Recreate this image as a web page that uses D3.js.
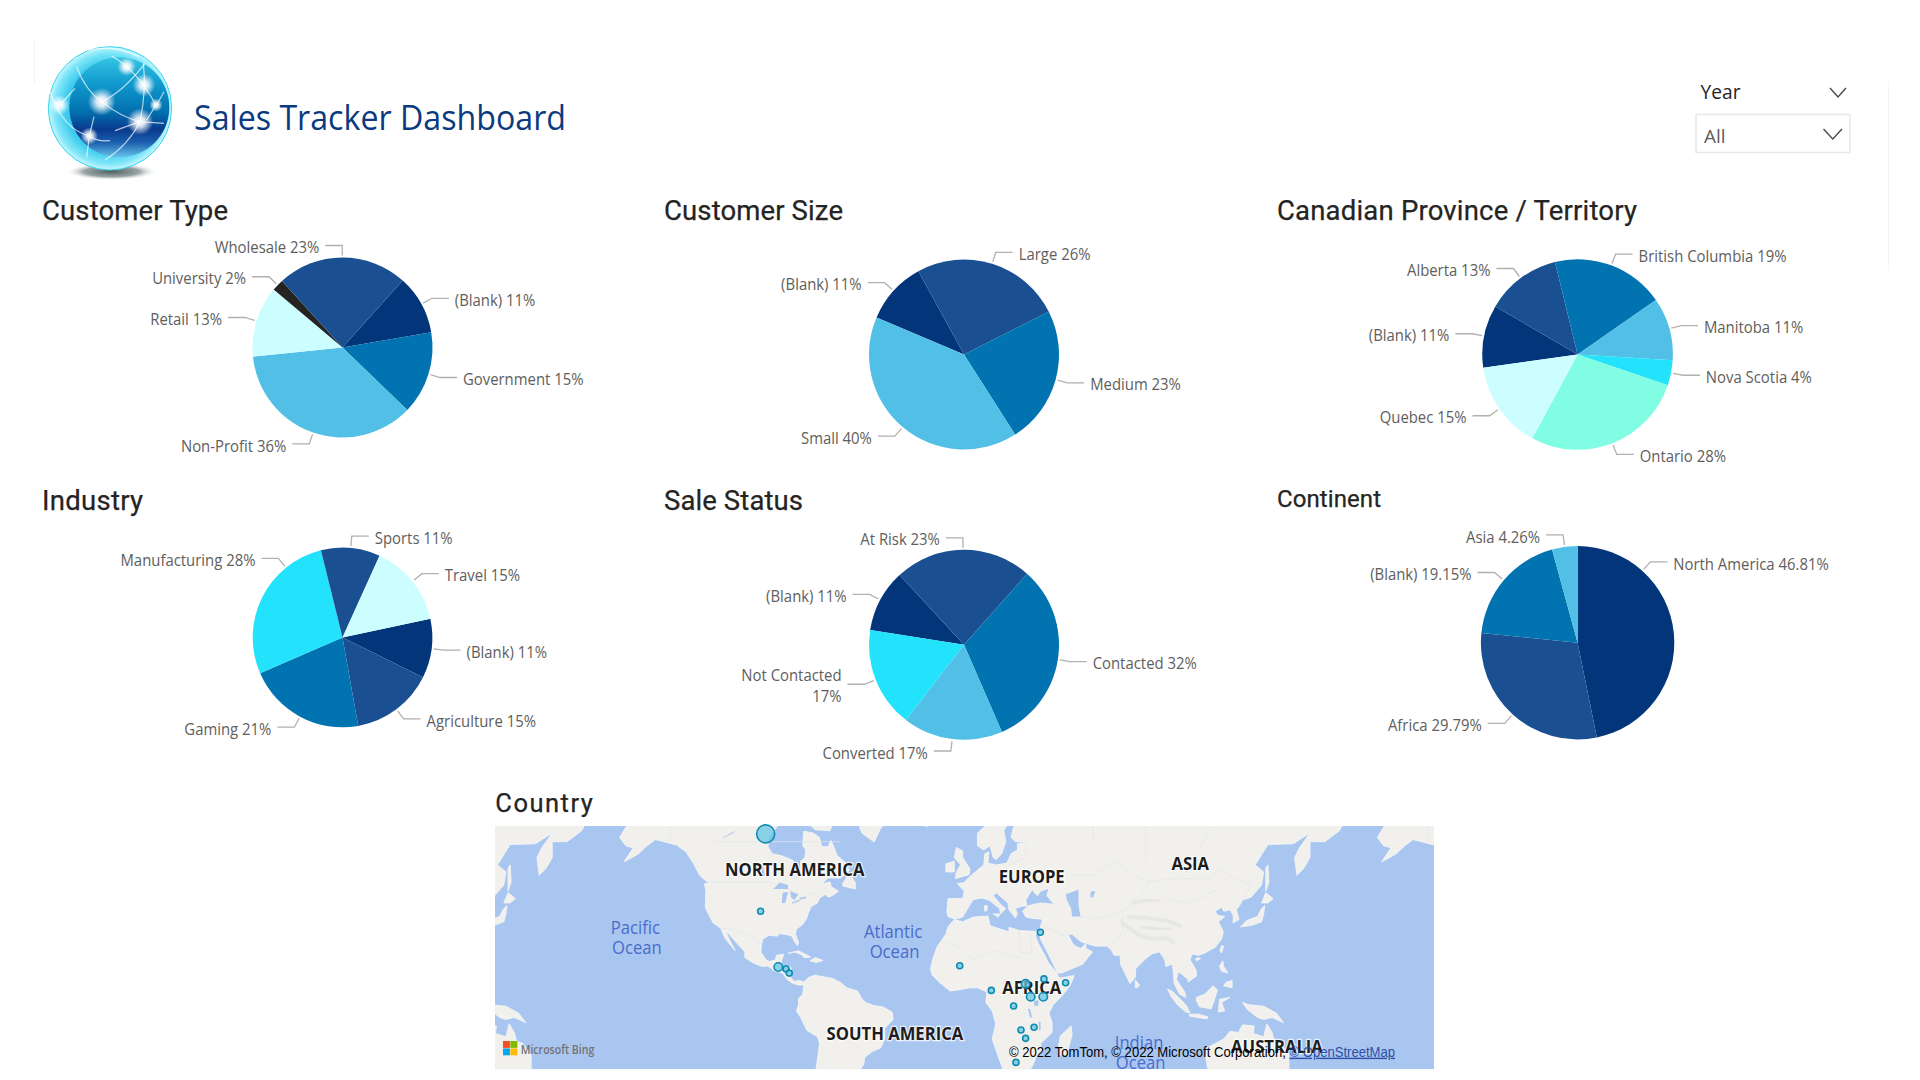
<!DOCTYPE html>
<html>
<head>
<meta charset="utf-8">
<title>Sales Tracker Dashboard</title>
<script src="https://cdn.jsdelivr.net/npm/d3@7"></script>
<style>
  body { margin: 0; background: #fff; }
  svg { display: block; }
  text { font-family: "Open Sans", "Noto Sans", sans-serif; }
  .title { font-family: Roboto, sans-serif; fill: #252423; font-weight: 400; stroke: #252423; stroke-width: 0.25px; }
  .pielabel { fill: #605e5c; font-size: 16px; }
</style>
</head>
<body>
<svg id="chart" width="1920" height="1080"></svg>
<script>
// Pie data, counts of the 47 customers
const typeCats = ["(Blank)", "Government", "Non-Profit", "Retail", "University", "Wholesale"];
const typeVals = [5, 7, 17, 6, 1, 11];
const sizeCats = ["(Blank)", "Large", "Medium", "Small"];
const sizeVals = [5, 12, 11, 19];
const provinceCats = ["(Blank)", "Alberta", "British Columbia", "Manitoba", "Nova Scotia", "Ontario", "Quebec"];
const provinceVals = [5, 6, 9, 5, 2, 13, 7];
const industryCats = ["(Blank)", "Agriculture", "Gaming", "Manufacturing", "Sports", "Travel"];
const industryVals = [5, 7, 10, 13, 5, 7];
const statusCats = ["(Blank)", "At Risk", "Contacted", "Converted", "Not Contacted"];
const statusVals = [5, 11, 15, 8, 8];
const continentCats = ["North America", "Africa", "(Blank)", "Asia"];
const continentVals = [22, 14, 9, 2];

// Map bubbles
const countries = ["Canada", "United States", "Guatemala", "Honduras", "Nicaragua", "Mali", "Israel", "Ethiopia", "Somalia",
  "South Sudan", "Cameroon", "Uganda", "Kenya", "DR Congo", "Malawi", "Zambia", "Zimbabwe", "South Africa"];
const countryLon = [-95.6, -98, -89.6, -85.9, -84.4, -3.4, 34.9, 36.6, 46.9, 27.9, 11.6, 30.3, 36.3, 22.2, 31.9, 25.7, 27.9, 23.3];
const countryLat = [61.8, 39, 15.7, 14.8, 12.9, 16.3, 30.8, 10.2, 8.4, 7.9, 4.8, 1.8, 1.8, -2.6, -12.6, -13.9, -17.7, -28.2];
const countryVals = [9, 1, 2, 1, 1, 1, 1, 1, 1, 2, 1, 2, 2, 1, 1, 1, 1, 1];

// Rough coastlines, lon/lat
const land = [
  // north america
  [[-168,65.6],[-164,66.5],[-166,68.3],[-160,70],[-156,71.2],[-148,70.4],[-141,69.7],[-130,70],[-125,70],[-115,68],[-108,68],[-100,68],[-95,69],[-94,72],[-90,69],[-85,69.5],[-81,68],[-87,65],[-90,63.5],[-94,61],[-94.5,58.8],[-92.5,57],[-88,56.5],[-82.5,55.2],[-82,52.9],[-79.5,51.3],[-79,52.5],[-79,55],[-77,56],[-76.5,58],[-78,59],[-77.5,62.4],[-73,62],[-70,61],[-69,58.8],[-66,58.8],[-64.5,60.3],[-61.5,56.5],[-58,54.8],[-55.7,52.5],[-60,50.2],[-66,50.2],[-69,48.3],[-65,49],[-64.5,47.5],[-61,46],[-64,44.5],[-66,44],[-67,45],[-70,43.7],[-71,42],[-74,40.7],[-75.5,38],[-76,36.5],[-78,34],[-81,32],[-81.5,30],[-80,26.8],[-80.5,25.2],[-82,27],[-83,29.2],[-85,29.7],[-89,30.3],[-90,29.2],[-94,29.6],[-97,28],[-97.7,25],[-97.8,22.3],[-95.5,19],[-94,18.2],[-91,18.8],[-90.5,21],[-87,21.5],[-88,18.5],[-88.5,16],[-84,15.9],[-83.3,14.9],[-83.8,11],[-82,9],[-79.5,9.5],[-77.5,8.7],[-77.8,7.3],[-80,7.3],[-81,7.6],[-83,8.3],[-85.5,10],[-87.5,13],[-91.5,14],[-94.5,16.2],[-97,15.9],[-101.5,17.5],[-105.5,20],[-105.5,22.5],[-109,26],[-112.5,29.5],[-114.7,31.6],[-113,28],[-110,23],[-112,25],[-115,28.5],[-117,32.5],[-120.5,34.5],[-122.5,37.5],[-124.3,40.4],[-124,46],[-124.7,48.4],[-122.5,48.5],[-127,51],[-130,54.5],[-133.5,57.5],[-138,59.2],[-144,60],[-148,60.5],[-152,59],[-156,57],[-163,54.8],[-158.5,58.5],[-162,59],[-165,61],[-161,64]],
  // greenland, baffin, newfoundland, iceland
  [[-54,72],[-50,68],[-53,66],[-50,62],[-44,59.9],[-41,63],[-35,66],[-25,70],[-30,75],[-54,75]],
  [[-72,62.7],[-65,62.5],[-62,66],[-70,71],[-80,72],[-85,70],[-78,65]],
  [[-59,47.7],[-53,46.7],[-53,48.8],[-56,51.5],[-59,48.5]],
  [[-24,65.5],[-18,66.3],[-14,65],[-19,63.4],[-23,64]],
  // caribbean
  [[-85,21.8],[-80,23],[-74.2,20.2],[-77.5,19.9],[-78,21],[-82,22.5]],
  [[-74.5,18.5],[-72,20],[-68.5,18.7],[-71.5,17.8]],
  // south america
  [[-77.5,8.7],[-75,11],[-72,12],[-70,11.5],[-64,10.5],[-60,8.5],[-57,6],[-52,4.5],[-50,1],[-48,-1],[-44,-2.5],[-40,-3],[-35.5,-5.5],[-35,-9],[-39,-13],[-39,-18],[-41,-22],[-45,-23.5],[-48.5,-26],[-49,-29],[-52,-33],[-55,-35],[-58,-38],[-62,-39],[-65,-45],[-68,-50],[-68,-54],[-73,-52],[-75,-46],[-73,-38],[-71.5,-30],[-70,-20],[-71,-17],[-76,-14],[-79,-8],[-81,-5],[-80,-2],[-80,1],[-78,3],[-77.5,7]],
  // africa, madagascar
  [[-6,35.8],[-2,35],[3,36.8],[10,37.2],[11,33.5],[15,32.3],[20,31],[20,32.8],[25,31.5],[32,31.2],[34.5,31.2],[32.5,29.5],[34,26],[37,21],[38.5,18],[43,12.5],[44,10.5],[51,11.8],[49,7],[45,2],[41,-2],[39,-6],[40.5,-10.5],[40.5,-15],[35,-20],[35.5,-24],[32.8,-26],[31,-30],[27,-34],[20,-35],[18,-33],[15,-26],[12,-18],[13.7,-11],[12,-5],[9,-1],[9.5,4],[5,6],[1,6],[-4,5],[-8,4.5],[-13,8.5],[-16.5,12],[-17.3,15],[-16,20],[-14,25],[-10,30],[-9,33]],
  [[49.5,-12],[50,-16],[47.5,-24.8],[44,-25],[43.5,-21],[44.5,-16.5]],
  // eurasia
  [[-9,37],[-9.5,39],[-9,43.5],[-2,43.5],[-1.2,46],[-4.5,48.5],[-1.5,48.7],[2,51],[4,52],[8,54],[8.5,57],[10.5,57.5],[10,54.5],[14,54],[19,54.5],[21,57],[24,58],[24,59.5],[30,60],[23,60],[21,61],[22,63],[25,65.5],[22,65.8],[17.5,62.5],[18.5,60],[16.5,57],[14,55.5],[12.5,56],[11,59],[8,58],[5,59],[5,62],[10,64],[14,68],[20,70],[26,71],[32,69.7],[41,67],[40,65],[35,64],[37,64],[44,66],[44,68],[54,68.5],[60,69],[68,69],[67,72],[73,72],[80,73],[90,75],[105,77],[113,74],[130,71],[140,72.5],[160,70],[170,70],[180,69],[180,65],[177,62.5],[170,60],[163,60],[163,56],[160,53],[156.8,51],[155.7,56],[158,58.5],[163,62],[155,59.5],[143,59.3],[137,54],[141,52],[140,48],[135,44],[131,43],[129.5,41],[128,39.5],[129.3,36],[126.5,34.5],[126.5,37.5],[125,39.5],[122,39],[121,40.5],[118,39],[119,37.5],[122.5,37],[119.5,35],[121.8,31],[121,28],[118,24.5],[113,22],[110,21],[107,21.5],[106,19],[109,14],[109,11.5],[105,8.7],[105,10],[102,12.5],[100.5,13.5],[99.5,10],[103.5,4],[104,1.5],[101,3],[98.5,8],[98,14],[97.5,17],[94.5,16],[94,19],[91.5,22.5],[88,21.7],[85,19.5],[80.2,15],[80,11],[77.5,8],[76,11],[73,17],[72.8,21],[70,21],[68.5,23.5],[66.5,25],[61,25],[57,26],[54,27],[50,30],[48,30],[50,26.5],[51.5,25],[54,24],[56.5,26],[56.5,24],[59.7,22.5],[55,17],[45,13],[43,13],[39,21],[35,28],[34.8,29.5],[34.3,31.3],[36,36],[32,36.2],[28,36.8],[26.5,39],[29,41],[35,42],[41.5,41.5],[38,44.5],[39,47],[35,46],[33.5,44.5],[31,46.5],[28,43],[28.5,41],[26,40.8],[23,40],[24,38],[23,36.5],[20,39.5],[19.5,42],[14,45.5],[12.5,44.5],[16,41.5],[18.4,40],[16,38],[15.5,40],[10.5,43],[7,43.7],[3,43.2],[0,39.5],[-2,36.8],[-5.5,36]],
  [[-180,65],[-173,64.5],[-170,66],[-175,67.5],[-180,69]],
  // islands
  [[-5.5,50],[1,51.2],[1.5,52.8],[-2,56],[-2,57.7],[-5,58.6],[-6,56],[-3,54],[-5,52]],
  [[-10,52],[-6,52],[-6,55],[-10,54.3]],
  [[12.5,38],[15.5,38],[15,36.8]],
  [[8.3,41],[9.7,41],[9.5,39.2],[8.5,39]],
  [[130,33],[135,33.5],[140,35],[141,38],[141.5,41],[140,40],[138,37],[133,35.5]],
  [[140,42],[143,42],[145.5,43.5],[142,45.5]],
  [[142,46],[143.5,49],[143,54],[142,53]],
  [[120.2,23],[121,22],[122,25],[121,25.2]],
  [[109,18.5],[111,19.5],[110,20],[108.7,19.5]],
  [[80,9.7],[82,7.5],[81,6],[80,6.2]],
  [[120,16],[121.5,18.5],[122,16],[124,13],[121,13.8]],
  [[122,7],[126,6],[126,9.5],[123,8.5]],
  [[109,1.5],[113,3],[117,7],[119,5],[117.8,1],[116,-4],[110.5,-3],[109,0]],
  [[95.3,5.5],[98,4],[104,-2],[106,-5.8],[104,-5.5],[100,-2],[97,2]],
  [[105.5,-6.5],[110,-6.5],[114.5,-7.7],[114,-8.7],[106,-7.5]],
  [[119.5,-5.5],[120,0.5],[125,1.5],[121,-1],[122.5,-5]],
  [[131,-1],[134,-2],[141,-2.7],[147,-6],[150.5,-10.5],[145,-8],[141,-9],[138,-8],[133,-4]],
  [[114,-22],[113.5,-26],[115,-34],[118,-35],[124,-33],[131,-31.5],[136,-35],[140,-38],[146,-39],[150,-37],[153,-31],[153,-25],[149,-20],[146,-19],[145,-15],[142.5,-11],[141,-17],[136,-15.5],[136.5,-12],[131,-11.5],[129,-15],[125,-14.5],[122,-18],[117,-20.5]]
];
const lakes = [
  [[47,45],[53,46.5],[53,41],[54,37],[50,37],[49.5,40],[47.5,43]],
  [[-92,46.7],[-85,46.7],[-85,48],[-89,48.8]],
  [[-88,42],[-86.3,42],[-85,45.8],[-87.5,45.5]],
  [[-84,46],[-80,45],[-82,43],[-83.5,44]],
  [[-83,41.7],[-79,42.8],[-79.5,43],[-83,42.2]],
  [[-79.5,43.3],[-76.5,43.5],[-76.5,44.2],[-79.5,43.8]],
  [[-98,53.8],[-97,50.5],[-96,51],[-97,54]],
  [[-116,61],[-110,62.5],[-111,62],[-116,60.8]],
  [[59,46],[61,46],[60,44],[58.5,44]],
  [[104,51.7],[110,55.5],[109,55.5],[104,52]],
  [[31.8,0],[34,0],[34,-2.5],[32,-2.5]],
  [[29,-4],[30,-4],[31,-8],[30,-8]],
  [[34,-10],[35,-10],[35,-14],[34.3,-14]]
];
// faint borders and rivers
const borders = [
  [[-123,49],[-95,49],[-89,48],[-83,46],[-82,43],[-79,43],[-75,45],[-70,46],[-67,47]],
  [[-117,32.5],[-108,31.5],[-103,29],[-97.5,26]],
  [[-141,69.7],[-141,60]],
  [[-120,60],[-60,60]],
  [[-90,51],[-80,50],[-95,55]],
  [[20,54],[28,56],[28,60]],
  [[50,51],[60,51],[70,55],[80,51],[87,49],[98,50],[107,50],[116,50],[120,53],[127,50],[135,48],[131,43]],
  [[87,49],[80,42],[74,39],[61,36],[53,37]],
  [[87,49],[96,43],[105,42],[112,44],[120,47],[116,50]],
  [[74,37],[74,31],[70,26],[68.5,24]],
  [[60,60],[60,70]],[[85,55],[85,70]],[[110,58],[120,66]],
  [[30,31],[31,22],[25,22],[25,31]],[[25,20],[12,23],[3,19],[-5,25],[-13,27]],
  [[44,30],[47,29],[40,32],[36,34]]
];
const ridges = [
  [[73,35],[78,32],[82,29.5],[88,28],[95,28.5],[99,26]],
  [[76,37],[85,36.5],[95,35.5],[102,33]],
  [[82,33],[90,32],[97,32]],
  [[78,42],[86,43],[92,43]]
];

const continentLabels = ["NORTH AMERICA", "SOUTH AMERICA", "EUROPE", "ASIA", "AFRICA", "AUSTRALIA"];
const continentLon = [-81.8, -34.2, 30.8, 106.1, 30.8, 147.3];
const continentLat = [52.7, -15.8, 50.4, 54.4, 6.1, -21.4];
const oceanLabels = [["Pacific", "Ocean"], ["Atlantic", "Ocean"], ["Indian", "Ocean"]];
const oceanLon = [-157.5, -35.1, 81.8];
const oceanLat = [32.4, 30.8, -19.9];

const navy = "#03357a", blue = "#1a5091", teal = "#0173b1", sky = "#52c0e6",
      cyan = "#23e2fb", pale = "#cdfeff", mint = "#80fde2", dark = "#252423";

const svg = d3.select("#chart");
const defs = svg.append("defs");

// squeeze open sans to the width of the original font
function squeeze(sel, f) {
  sel.each(function () {
    const len = this.getComputedTextLength();
    d3.select(this).attr("textLength", len * f).attr("lengthAdjust", "spacingAndGlyphs");
  });
}

/// Header ///
svg.append("line").attr("x1", 34.5).attr("x2", 34.5).attr("y1", 38).attr("y2", 84).attr("stroke", "#f2f2f2");
svg.append("line").attr("x1", 1888.5).attr("x2", 1888.5).attr("y1", 82).attr("y2", 270).attr("stroke", "#f4f4f4");

function gradient(tag, id, stops, attrs) {
  const g = defs.append(tag).attr("id", id);
  Object.entries(attrs || {}).forEach(([k, v]) => g.attr(k, v));
  stops.forEach(s => g.append("stop").attr("offset", s[0]).attr("stop-color", s[1]).attr("stop-opacity", s[2] === undefined ? 1 : s[2]));
}
gradient("radialGradient", "logoShadow", [[0, "#4e5f60"], [0.6, "#7d8c8d", 0.8], [1, "#ffffff", 0]]);
gradient("radialGradient", "logoOuter", [[0, "#2ab4e0"], [0.72, "#3fcbee"], [0.9, "#7fe6f8"], [1, "#c9f7fc"]]);
gradient("linearGradient", "logoInner", [[0, "#35c4e4"], [0.28, "#0f97cc"], [0.55, "#026fae"], [0.72, "#083a8e"], [0.85, "#1b5fae"], [1, "#66c4ea"]], { x1: 0, y1: 0, x2: 0, y2: 1 });
gradient("radialGradient", "logoStar", [[0, "#ffffff"], [0.35, "#ffffff", 0.85], [1, "#ffffff", 0]]);
defs.append("filter").attr("id", "soft").append("feGaussianBlur").attr("stdDeviation", 1);

const logo = svg.append("g").attr("transform", "translate(30,20) scale(0.3333)");
logo.append("ellipse").attr("cx", 245).attr("cy", 455).attr("rx", 138).attr("ry", 26).attr("fill", "url(#logoShadow)");
logo.append("circle").attr("cx", 240).attr("cy", 265).attr("r", 185).attr("fill", "url(#logoOuter)").attr("stroke", "#35d3f0").attr("stroke-width", 3);
logo.append("circle").attr("cx", 268).attr("cy", 262).attr("r", 150).attr("fill", "url(#logoInner)");
const logoLines = [
  "M140 140 Q165 210 215 245 Q270 290 330 305",
  "M215 245 Q280 215 345 130",
  "M60 215 Q100 330 178 348 Q200 365 240 362",
  "M90 255 L135 205",
  "M340 130 Q350 210 330 305 Q295 375 225 420",
  "M245 108 Q320 150 378 255 L350 300",
  "M178 348 L192 290",
  "M178 348 L170 412",
  "M330 305 L255 332",
  "M330 305 L402 310",
  "M175 92 Q245 70 330 112",
  "M380 255 L402 215"
];
logo.selectAll("path.l").data(logoLines).join("path").attr("class", "l").attr("d", d => d)
  .attr("fill", "none").attr("stroke", "#fff").attr("stroke-opacity", 0.7).attr("stroke-width", 3.5).attr("filter", "url(#soft)");
const logoStars = [[215, 245, 42], [342, 195, 34], [290, 140, 28], [88, 255, 30], [330, 305, 40], [178, 348, 26], [378, 255, 20]];
logo.selectAll("circle.s").data(logoStars).join("circle").attr("class", "s")
  .attr("cx", d => d[0]).attr("cy", d => d[1]).attr("r", d => d[2]).attr("fill", "url(#logoStar)");

svg.append("text").attr("x", 194).attr("y", 130).attr("fill", "#0b3a80").style("font-size", "35px")
  .attr("textLength", 372).attr("lengthAdjust", "spacingAndGlyphs").text("Sales Tracker Dashboard");

// Year slicer
function chevron(x1, x2, y1, y2) {
  svg.append("polyline").attr("points", [[x1, y1], [(x1 + x2) / 2, y2], [x2, y1]].join(" "))
    .attr("fill", "none").attr("stroke", "#4a4a4a").attr("stroke-width", 1.4);
}
svg.append("text").attr("x", 1700.5).attr("y", 99.3).attr("fill", "#252423")
  .style("font-size", "20px").style("font-weight", 500).attr("textLength", 40).attr("lengthAdjust", "spacingAndGlyphs").text("Year");
chevron(1830, 1846, 88, 97);
svg.append("rect").attr("x", 1696).attr("y", 114.5).attr("width", 154).attr("height", 38)
  .attr("fill", "#fff").attr("stroke", "#e8e8e8").attr("stroke-width", 1.5);
svg.append("text").attr("x", 1704).attr("y", 143.3).attr("fill", "#605e5c").style("font-size", "19px").text("All");
chevron(1823.5, 1842, 129, 139);

/// Pies ///
function drawPie(opt) {
  const g = svg.append("g").attr("transform", `translate(${opt.cx},${opt.cy})`);
  const total = d3.sum(opt.vals);
  const start = opt.start * Math.PI / 180;
  const rows = opt.cats.map((c, i) => ({ cat: c, val: opt.vals[i], color: opt.colors[i] }));
  const arcs = d3.pie().value(d => d.val).sort(null).startAngle(start).endAngle(start + 2 * Math.PI)(rows);
  const arc = d3.arc().innerRadius(0).outerRadius(opt.r);
  g.selectAll("path").data(arcs).join("path").attr("d", arc).attr("fill", d => d.data.color);

  const fmt = d3.format(opt.digits ? ".2f" : ".0f");
  arcs.forEach(d => {
    // a few leaders were pushed away from the slice middle in the original
    const moved = (opt.leader || {})[d.data.cat];
    const mid = moved !== undefined ? moved * Math.PI / 180 : ((d.startAngle + d.endAngle) / 2) % (2 * Math.PI);
    const side = mid < Math.PI ? 1 : -1;
    const p0 = [Math.sin(mid) * (opt.r + 2), -Math.cos(mid) * (opt.r + 2)];
    const p1 = [Math.sin(mid) * (opt.r + 12), -Math.cos(mid) * (opt.r + 12)];
    const p2 = [p1[0] + side * 17, p1[1]];
    g.append("polyline").attr("points", [p0, p1, p2].join(" "))
      .attr("fill", "none").attr("stroke", "#b3b0ad").attr("stroke-width", 1.3);
    const pct = fmt(d.data.val / total * 100) + "%";
    const lines = d.data.cat === "Not Contacted" ? [d.data.cat, pct] : [d.data.cat + " " + pct];
    const y0 = p1[1] + 2 - (lines.length - 1) * 10.5;
    lines.forEach((s, i) => {
      g.append("text").attr("class", "pielabel").attr("x", p2[0] + side * 6).attr("y", y0 + i * 21)
        .attr("dy", "0.35em").attr("text-anchor", side > 0 ? "start" : "end").text(s).call(squeeze, 0.93);
    });
  });

  svg.append("text").attr("class", "title").attr("x", opt.tx).attr("y", opt.ty)
    .style("font-size", opt.tsize + "px").attr("textLength", opt.tw).attr("lengthAdjust", "spacing").text(opt.title);
}

drawPie({ title: "Customer Type", tx: 42, ty: 220, tw: 186, tsize: 27.5, cx: 342.5, cy: 347.5, r: 90, start: 42,
  cats: typeCats, vals: typeVals, colors: [navy, teal, sky, pale, dark, blue] });
drawPie({ title: "Customer Size", tx: 664, ty: 220, tw: 179, tsize: 27.5, cx: 964, cy: 354.5, r: 95, start: 293,
  cats: sizeCats, vals: sizeVals, colors: [navy, blue, teal, sky] });
drawPie({ title: "Canadian Province / Territory", tx: 1277, ty: 220, tw: 360, tsize: 27.5, cx: 1577.6, cy: 354.5, r: 95.3, start: 262,
  cats: provinceCats, vals: provinceVals, colors: [navy, blue, teal, sky, cyan, mint, pale] });
drawPie({ title: "Industry", tx: 42, ty: 510, tw: 101, tsize: 27.5, cx: 342.5, cy: 637.5, r: 89.8, start: 78,
  leader: { "Manufacturing": 321 },
  cats: industryCats, vals: industryVals, colors: [navy, blue, teal, cyan, blue, pale] });
drawPie({ title: "Sale Status", tx: 664, ty: 510, tw: 139, tsize: 27.5, cx: 964, cy: 644.8, r: 95, start: 279,
  cats: statusCats, vals: statusVals, colors: [navy, blue, teal, sky, cyan] });
drawPie({ title: "Continent", tx: 1277, ty: 507, tw: 104, tsize: 24, cx: 1577.6, cy: 642.7, r: 96.7, start: 0, digits: 2,
  leader: { "North America": 42 },
  cats: continentCats, vals: continentVals, colors: [navy, blue, teal, sky] });

/// Map ///
svg.append("text").attr("class", "title").attr("x", 495.3).attr("y", 812.3)
  .style("font-size", "25.5px").attr("textLength", 97.6).attr("lengthAdjust", "spacing").text("Country");

const mapX = 495, mapY = 826, mapW = 939, mapH = 243.3;
defs.append("clipPath").attr("id", "mapClip").append("rect").attr("x", mapX).attr("y", mapY).attr("width", mapW).attr("height", mapH);
defs.append("filter").attr("id", "mapBlur").append("feGaussianBlur").attr("stdDeviation", 0.55);
defs.append("filter").attr("id", "ridgeBlur").append("feGaussianBlur").attr("stdDeviation", 1.3);

const projection = d3.geoMercator().scale(120.6).translate([966.9, 1000.5]);
const worldW = 120.6 * 2 * Math.PI;
const ring = d3.line().x(p => projection(p)[0]).y(p => projection(p)[1]);
const closed = d3.line().x(p => projection(p)[0]).y(p => projection(p)[1]).curve(d3.curveLinearClosed);

const mapG = svg.append("g").attr("clip-path", "url(#mapClip)");
mapG.append("rect").attr("x", mapX).attr("y", mapY).attr("width", mapW).attr("height", mapH).attr("fill", "#a9c6f0");
const world = mapG.append("g").attr("filter", "url(#mapBlur)");
[-worldW, 0, worldW].forEach(dx => {
  const w = world.append("g").attr("transform", `translate(${dx},0)`);
  w.selectAll("path.land").data(land).join("path").attr("class", "land").attr("d", closed)
    .attr("fill", "#f1f0ec").attr("stroke", "#f7f7f5").attr("stroke-width", 0.8);
  w.selectAll("path.border").data(borders).join("path").attr("class", "border").attr("d", ring)
    .attr("fill", "none").attr("stroke", "#e2e5e9").attr("stroke-width", 0.7);
  w.selectAll("path.ridge").data(ridges).join("path").attr("class", "ridge").attr("d", ring)
    .attr("fill", "none").attr("stroke", "#e3e3de").attr("stroke-width", 3).attr("filter", "url(#ridgeBlur)");
  w.selectAll("path.lake").data(lakes).join("path").attr("class", "lake").attr("d", closed)
    .attr("fill", "#a9c6f0");
});

// map labels
const mapText = mapG.append("g");
oceanLabels.forEach((words, i) => {
  const [x, y] = projection([oceanLon[i], oceanLat[i]]);
  words.forEach((w, j) => {
    mapText.append("text").attr("x", x + j * 1.5).attr("y", y + j * 20).attr("dy", "0.35em").attr("text-anchor", "middle")
      .attr("fill", "#4a6ccb").style("font-size", "17.5px").text(w).call(squeeze, 0.95);
  });
});
continentLabels.forEach((s, i) => {
  const [x, y] = projection([continentLon[i], continentLat[i]]);
  mapText.append("text").attr("x", x).attr("y", y).attr("dy", "0.35em").attr("text-anchor", "middle")
    .attr("fill", "#1d1d1d").attr("stroke", "#ffffff").attr("stroke-width", 2.5).attr("stroke-opacity", 0.75).attr("paint-order", "stroke")
    .style("font-size", "17.5px").style("font-weight", 700).text(s).call(squeeze, 0.95);
});

// bubbles are allowed to stick out of the top of the map
const rScale = d3.scaleSqrt().domain([0, 9]).range([0, 9]);
const bubbles = countries.map((c, i) => ({ name: c, lon: countryLon[i], lat: countryLat[i], val: countryVals[i] }));
svg.append("g").selectAll("circle").data(bubbles).join("circle")
  .attr("cx", d => projection([d.lon, d.lat])[0]).attr("cy", d => projection([d.lon, d.lat])[1])
  .attr("r", d => rScale(d.val)).attr("fill", "#67c5e4").attr("fill-opacity", 0.75)
  .attr("stroke", "#0f8bb0").attr("stroke-width", 1.6);

// bing logo and attribution
const msColors = ["#f25022", "#7fba00", "#00a4ef", "#ffb900"];
svg.append("g").selectAll("rect").data(msColors).join("rect")
  .attr("x", (d, i) => 503 + (i % 2) * 7.4).attr("y", (d, i) => 1041 + (i > 1 ? 7.4 : 0))
  .attr("width", 6.9).attr("height", 6.9).attr("fill", d => d);
svg.append("text").attr("x", 520.7).attr("y", 1049).attr("dy", "0.35em").attr("fill", "#737373")
  .style("font-size", "13px").style("font-weight", 600).attr("textLength", 73.6).attr("lengthAdjust", "spacingAndGlyphs").text("Microsoft Bing");

const attr = svg.append("text").attr("x", 1009).attr("y", 1056.7).attr("fill", "#000")
  .style("font-family", "'Liberation Sans', Arial, sans-serif").style("font-size", "14px")
  .attr("textLength", 386).attr("lengthAdjust", "spacingAndGlyphs");
attr.append("tspan").text("© 2022 TomTom, © 2022 Microsoft Corporation, ");
attr.append("tspan").attr("fill", "#2c4fa8").attr("text-decoration", "underline").text("© OpenStreetMap");
</script>
</body>
</html>
